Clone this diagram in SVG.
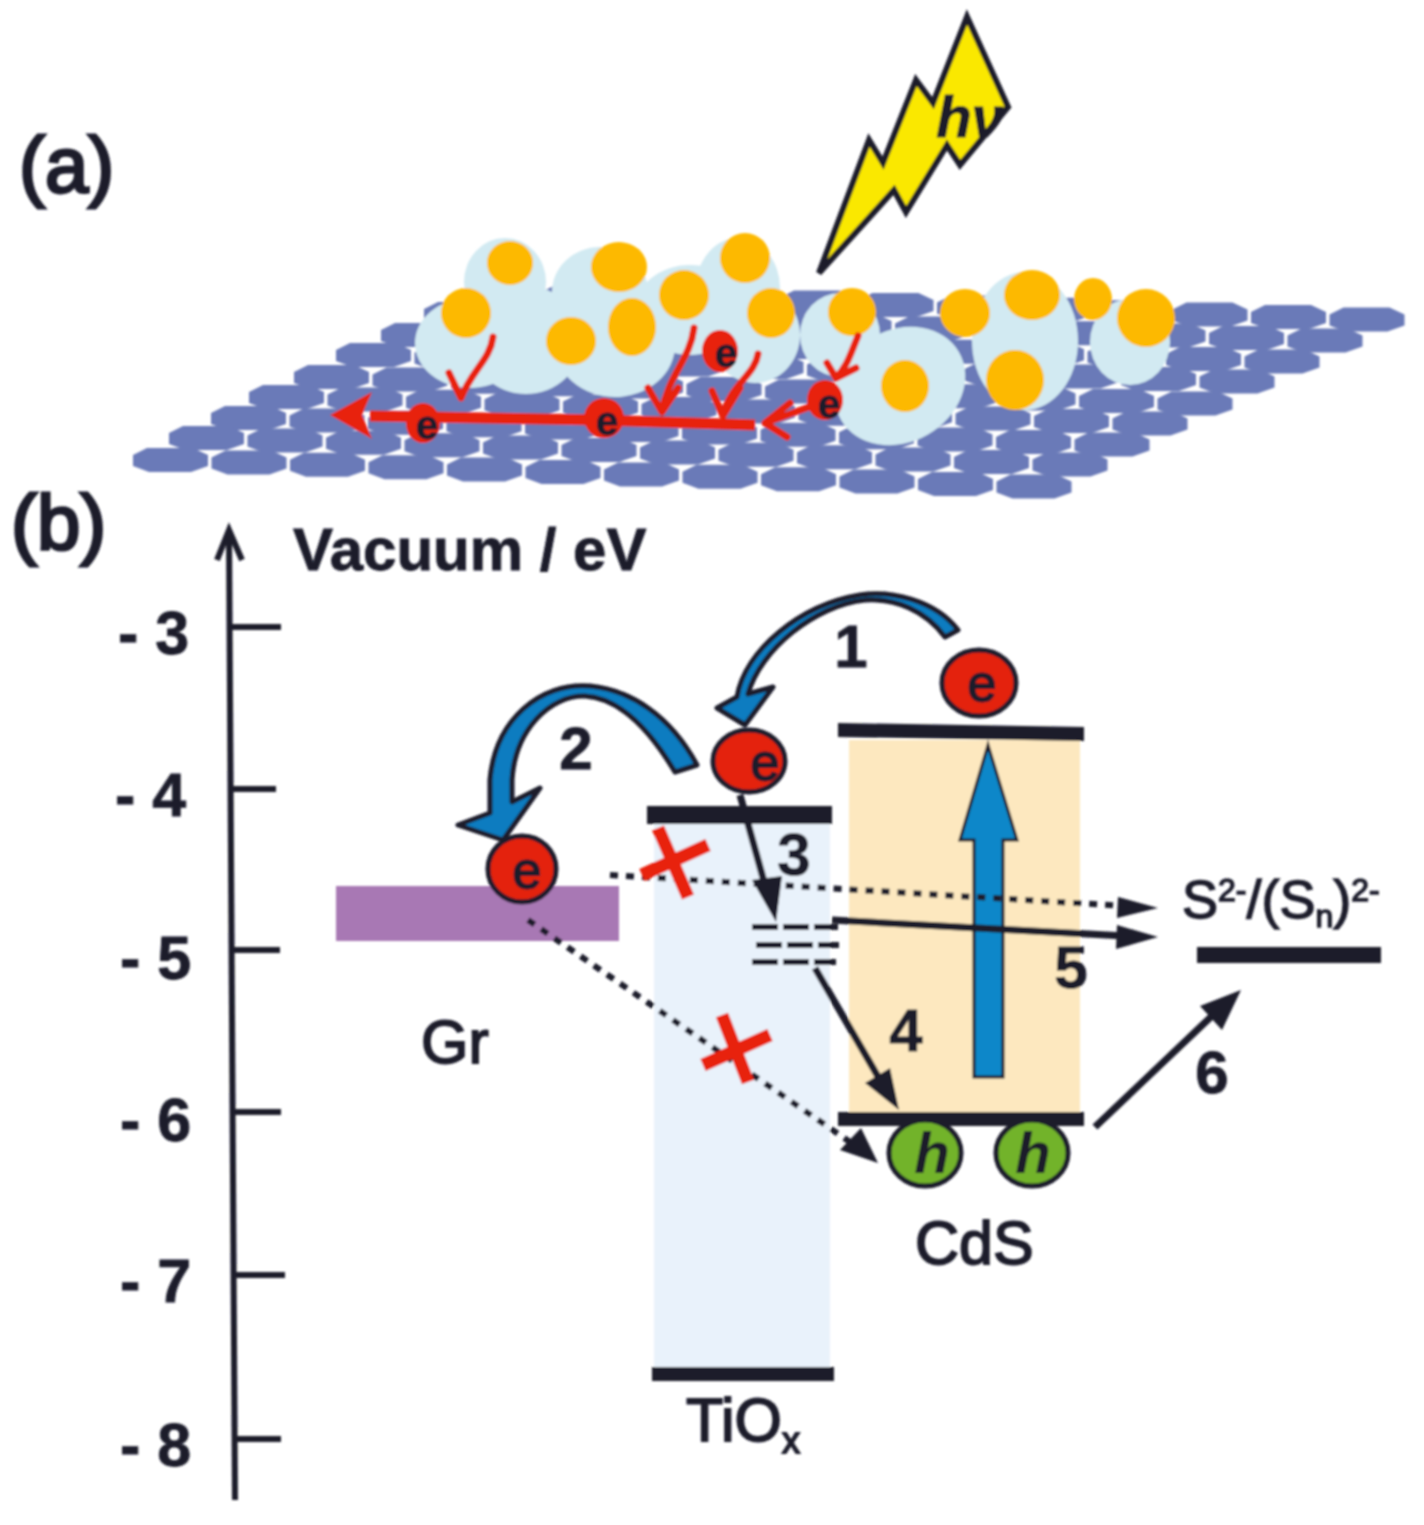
<svg xmlns="http://www.w3.org/2000/svg" xmlns:xlink="http://www.w3.org/1999/xlink" width="1424" height="1525" viewBox="0 0 1424 1525">
<style>
text{font-family:"Liberation Sans",Arial,sans-serif;fill:#1b1c2c}
.lbl{font-weight:700;font-size:60px;text-anchor:middle;stroke:#1b1c2c;stroke-width:.8}
.tick{font-weight:700;font-size:61px;stroke:#1b1c2c;stroke-width:.8}
.name{font-size:61px;stroke:#1b1c2c;stroke-width:1.8}
.bar{fill:#1b1c2c}
.tk{stroke:#1b1c2c;stroke-width:6;fill:none}
.pt{fill:#d2eaf2}
.au{fill:#fdb900}
.re{stroke:#e8210f;fill:none;stroke-linecap:round;stroke-linejoin:round}
.bigE{fill:#e42310;stroke:#1b1c2c;stroke-width:5}
.bigH{fill:#72b32a;stroke:#1b1c2c;stroke-width:5}
.smE{fill:#e8210f}
.eT{font-size:52px;text-anchor:middle;fill:#1b1c2c;stroke:#1b1c2c;stroke-width:2}
.esm{font-size:40px;font-weight:700;text-anchor:middle;stroke:#1b1c2c;stroke-width:1}
.hT{font-size:58px;font-weight:700;font-style:italic;text-anchor:middle}
.ln{stroke:#1b1c2c;stroke-width:7;fill:none}
.dot{stroke:#1b1c2c;stroke-width:6;fill:none;stroke-dasharray:8 8}
.dash{stroke:#1b1c2c;stroke-width:6;fill:none;stroke-dasharray:26 5}
.hd{fill:#1b1c2c}
.blue{fill:#0a7cc0;stroke:#1b1c2c;stroke-width:5;stroke-linejoin:round}
.x{stroke:#e8210f;stroke-width:13;fill:none}
</style>
<defs>
<filter id="soft" x="-2%" y="-2%" width="104%" height="104%"><feGaussianBlur stdDeviation="1"/></filter>
<polygon id="b" fill="#6b7ab8" points="0,-4 14,-11 60,-11 75,-4 75,7 58,13 16,13 0,7"/>
<g id="row">
<use xlink:href="#b" href="#b" x="0" y="0"/><use xlink:href="#b" href="#b" x="78.5" y="2.4"/><use xlink:href="#b" href="#b" x="157" y="4.8"/><use xlink:href="#b" href="#b" x="235.5" y="7.2"/><use xlink:href="#b" href="#b" x="314" y="9.6"/><use xlink:href="#b" href="#b" x="392.5" y="12"/><use xlink:href="#b" href="#b" x="471" y="14.4"/><use xlink:href="#b" href="#b" x="549.5" y="16.8"/><use xlink:href="#b" href="#b" x="628" y="19.2"/><use xlink:href="#b" href="#b" x="706.5" y="21.6"/><use xlink:href="#b" href="#b" x="785" y="24"/><use xlink:href="#b" href="#b" x="863.5" y="26.4"/>
</g>
</defs>
<rect width="1424" height="1525" fill="#ffffff"/>
<g filter="url(#soft)">
<text id="label-a" x="19" y="192" font-size="78" style="stroke:#1b1c2c;stroke-width:3">(a)</text>
<text id="label-b" x="11" y="550" font-size="78" style="stroke:#1b1c2c;stroke-width:3">(b)</text>

<g id="graphene">
<use xlink:href="#row" href="#row" x="466" y="292"/>
<use xlink:href="#row" href="#row" x="424" y="313"/>
<use xlink:href="#row" href="#row" x="381" y="334"/>
<use xlink:href="#row" href="#row" x="336" y="354"/>
<use xlink:href="#row" href="#row" x="294" y="376"/>
<use xlink:href="#row" href="#row" x="249" y="396"/>
<use xlink:href="#row" href="#row" x="211" y="417"/>
<use xlink:href="#row" href="#row" x="169" y="437"/>
<use xlink:href="#row" href="#row" x="133" y="459"/>
</g>

<g id="particles">
<ellipse class="pt" cx="505" cy="282" rx="41" ry="44"/>
<ellipse class="pt" cx="600" cy="292" rx="48" ry="45"/>
<ellipse class="pt" cx="470" cy="343" rx="55" ry="45"/>
<ellipse class="pt" cx="526" cy="340" rx="56" ry="54"/>
<ellipse class="pt" cx="615" cy="345" rx="60" ry="52"/>
<ellipse class="pt" cx="690" cy="310" rx="55" ry="45"/>
<ellipse class="pt" cx="738" cy="288" rx="42" ry="50"/>
<ellipse class="pt" cx="755" cy="335" rx="45" ry="48"/>
<ellipse class="pt" cx="840" cy="335" rx="40" ry="42"/>
<ellipse class="pt" cx="900" cy="386" rx="68" ry="56" transform="rotate(-30 900 386)"/>
<ellipse class="pt" cx="1025" cy="341" rx="53" ry="69"/>
<ellipse class="pt" cx="1130" cy="342" rx="40" ry="43"/>
<ellipse class="au" cx="510" cy="263" rx="23" ry="22"/>
<ellipse class="au" cx="619" cy="267" rx="28" ry="25"/>
<ellipse class="au" cx="745" cy="258" rx="25" ry="25"/>
<ellipse class="au" cx="684" cy="295" rx="25" ry="25"/>
<ellipse class="au" cx="466" cy="313" rx="25" ry="25"/>
<ellipse class="au" cx="571" cy="341" rx="25" ry="24"/>
<ellipse class="au" cx="632" cy="327" rx="24" ry="29"/>
<ellipse class="au" cx="771" cy="313" rx="24" ry="25"/>
<ellipse class="au" cx="852" cy="312" rx="24" ry="24"/>
<ellipse class="au" cx="965" cy="313" rx="25" ry="24"/>
<ellipse class="au" cx="1032" cy="295" rx="28" ry="25"/>
<ellipse class="au" cx="1093" cy="299" rx="19" ry="21"/>
<ellipse class="au" cx="1146" cy="318" rx="29" ry="29"/>
<ellipse class="au" cx="905" cy="386" rx="24" ry="26"/>
<ellipse class="au" cx="1015" cy="380" rx="29" ry="30"/>
</g>

<g id="bolt">
<polygon points="819,273 869,140 883,163 916,80 933,103 967,17 1008,107 960,165 947,145 906,212 894,190" fill="#fae800" stroke="#1b1c2c" stroke-width="6" stroke-linejoin="miter"/>
<text x="970" y="137" font-size="58" font-weight="700" font-style="italic" text-anchor="middle" style="stroke:#1b1c2c;stroke-width:1">hν</text>
</g>

<g id="photo-electrons">
<path class="re" stroke-width="11" d="M755 425 L600 420 L370 416" style="stroke-linecap:butt"/>
<polygon points="330,415 372,392 362,415 372,439" fill="#e8210f"/>
<g class="re" stroke-width="7">
<path d="M493 337 C490 360 472 370 461 398 L449 373"/>
<path d="M694 328 C690 360 668 375 662 412 L648 388 M662 412 L678 388"/>
<path d="M758 354 C755 375 730 385 723 416 L712 391 M723 416 L740 388"/>
<path d="M858 336 C850 355 848 365 836 378 L827 363 M836 378 L856 368"/>
<path d="M812 406 L765 423 L790 403 M765 423 L787 437"/>
</g>
<ellipse class="smE" cx="423" cy="423" rx="17" ry="20"/><text class="esm" x="427" y="439">e</text>
<ellipse class="smE" cx="604" cy="418" rx="20" ry="20"/><text class="esm" x="607" y="435">e</text>
<ellipse class="smE" cx="720" cy="351" rx="18" ry="21"/><text class="esm" x="726" y="367">e</text>
<ellipse class="smE" cx="825" cy="400" rx="18" ry="20"/><text class="esm" x="829" y="418">e</text>
</g>

<g id="band-tiox"><rect x="654" y="822" width="176" height="548" fill="#e9f2fb"/></g>
<g id="band-cds"><rect x="849" y="740" width="231" height="372" fill="#fde8bf"/></g>
<g id="band-gr"><rect x="336" y="886" width="283" height="55" fill="#a878b4"/></g>

<g id="axis">
<path class="tk" d="M229 535 L235 1500"/>
<path class="tk" d="M217 560 L229 530 L242 560"/>
<path class="tk" d="M228 627H281M228 789H276M229 950H280M230 1112H281M233 1275H285M233 1439H281"/>
<text class="tick" x="118" y="654">- 3</text>
<text class="tick" x="115" y="816">- 4</text>
<text class="tick" x="120" y="979">- 5</text>
<text class="tick" x="120" y="1141">- 6</text>
<text class="tick" x="120" y="1302">- 7</text>
<text class="tick" x="120" y="1466">- 8</text>
<text x="293" y="570" font-size="60" font-weight="700" style="stroke:#1b1c2c;stroke-width:.8">Vacuum / eV</text>
</g>

<g id="levels">
<polygon class="bar" points="838,723 1084,727 1084,741 838,737"/>
<rect class="bar" x="838" y="1112" width="246" height="14"/>
<rect class="bar" x="647" y="806" width="185" height="18"/>
<rect class="bar" x="652" y="1367" width="182" height="14"/>
<rect class="bar" x="1197" y="947" width="184" height="16"/>
<g id="trap-states">
<path class="dash" d="M752 927H838"/>
<path class="dash" d="M756 945H839"/>
<path class="dash" d="M752 962H836"/>
</g>
</g>

<g id="connectors">
<path class="blue" d="M958 630 C935 600 890 590 860 595 C800 605 745 650 737 697 L717 708 L745 725 L773 687 L748 694 C760 650 815 605 865 600 C895 598 925 610 945 637 Z"/>
<path class="blue" d="M697 765 C670 715 630 690 590 686 C540 682 495 720 490 780 L490 813 L458 825 L503 840 L540 788 L512 802 L512 780 C515 730 550 695 585 696 C620 698 650 730 675 772 Z"/>
<polygon points="974,1077 1003,1077 1003,840 1017,840 988,745 960,840 974,840" fill="#0e87c9" stroke="#1b1c2c" stroke-width="3"/>
<path class="ln" d="M740 795 L765 885"/>
<polygon class="hd" points="776,922 752,880 782,876"/>
<path class="ln" d="M815 968 L880 1080"/>
<polygon class="hd" points="899,1110 865,1083 890,1068"/>
<path class="ln" d="M832 920 L1125 936"/>
<polygon class="hd" points="1158,937 1117,925 1116,949"/>
<path class="dot" d="M610 875 L1125 906"/>
<polygon class="hd" points="1158,908 1118,897 1117,918"/>
<path class="dot" d="M528 920 L850 1142"/>
<polygon class="hd" points="878,1163 840,1150 861,1128"/>
<path class="ln" d="M1095 1127 L1215 1013"/>
<polygon class="hd" points="1241,990 1200,1006 1222,1030"/>
<path class="x" d="M658 828 L688 897 M708 845 L642 875"/>
<path class="x" d="M722 1015 L748 1082 M770 1035 L703 1065"/>
</g>

<g id="electron-cb-cds"><ellipse class="bigE" cx="979" cy="683" rx="37" ry="33"/><text class="eT" x="982" y="701">e</text></g>
<g id="electron-cb-tiox"><ellipse class="bigE" cx="749" cy="761" rx="36" ry="31"/><text class="eT" x="765" y="780">e</text></g>
<g id="electron-gr"><ellipse class="bigE" cx="522" cy="869" rx="34" ry="33"/><text class="eT" x="527" y="888">e</text></g>
<g id="hole-1"><ellipse class="bigH" cx="925" cy="1153" rx="36" ry="33"/><text class="hT" x="932" y="1173">h</text></g>
<g id="hole-2"><ellipse class="bigH" cx="1032" cy="1153" rx="36" ry="33"/><text class="hT" x="1033" y="1173">h</text></g>

<g id="labels">
<text class="lbl" x="851" y="667">1</text>
<text class="lbl" x="576" y="769">2</text>
<text class="lbl" x="794" y="875">3</text>
<text class="lbl" x="906" y="1051">4</text>
<text class="lbl" x="1071" y="988">5</text>
<text class="lbl" x="1212" y="1093">6</text>
<text class="name" x="421" y="1063">Gr</text>
<text class="name" x="915" y="1264">CdS</text>
<text class="name" x="686" y="1441">TiO<tspan font-size="36" dy="12">x</tspan></text>
<text x="1182" y="918" font-size="54" style="stroke:#1b1c2c;stroke-width:1.4">S<tspan font-size="32" dy="-17">2-</tspan><tspan dy="17">/(S</tspan><tspan font-size="32" dy="9">n</tspan><tspan dy="-9">)</tspan><tspan font-size="32" dy="-17">2-</tspan></text>
</g>
</g>
</svg>
